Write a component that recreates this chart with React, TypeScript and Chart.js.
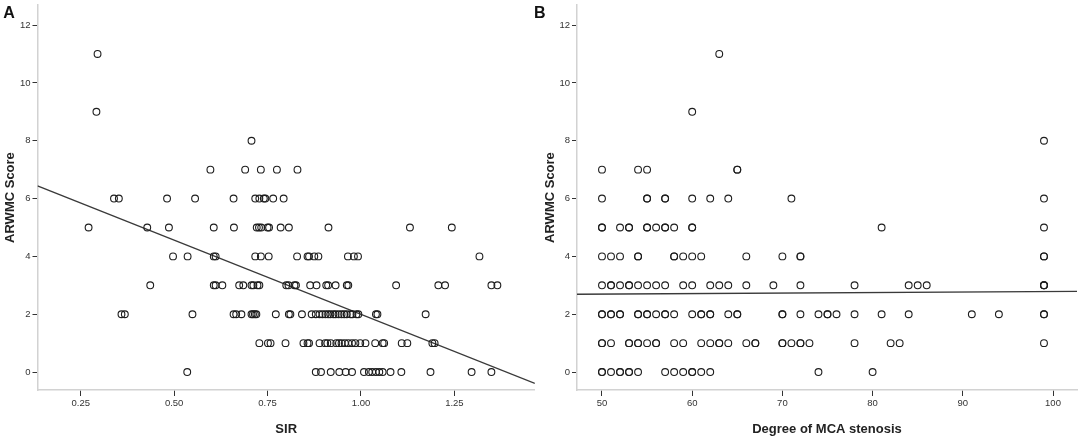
import React, { useEffect, useRef } from "react";
import { Chart, registerables } from "chart.js";

Chart.register(...registerables);

// ---------- data ----------
const scoreLevels = [0, 1, 2, 3, 4, 5, 6, 7, 8, 9, 11];
const yTicks = [0, 2, 4, 6, 8, 10, 12];
const sirTicks = [0.25, 0.5, 0.75, 1.0, 1.25];
const stenosisTicks = [50, 60, 70, 80, 90, 100];

// Panel A: SIR values for each ARWMC score
const sirScore0 = [0.535, 0.879, 0.893, 0.919, 0.942, 0.959, 0.976, 1.008, 1.021, 1.03, 1.04, 1.049, 1.058, 1.079, 1.108, 1.186, 1.296, 1.349];
const sirScore1 = [0.728, 0.751, 0.758, 0.798, 0.846, 0.857, 0.861, 0.889, 0.904, 0.91, 0.919, 0.934, 0.941, 0.948, 0.957, 0.966, 0.976, 0.985, 0.998, 1.012, 1.038, 1.058, 1.062, 1.109, 1.124, 1.191, 1.197];
const sirScore2 = [0.359, 0.368, 0.549, 0.659, 0.666, 0.68, 0.707, 0.711, 0.716, 0.72, 0.772, 0.807, 0.811, 0.842, 0.868, 0.879, 0.889, 0.897, 0.905, 0.912, 0.918, 0.926, 0.932, 0.94, 0.948, 0.955, 0.962, 0.972, 0.977, 0.988, 0.993, 1.04, 1.044, 1.173];
const sirScore3 = [0.436, 0.606, 0.611, 0.629, 0.674, 0.685, 0.707, 0.712, 0.723, 0.728, 0.8, 0.806, 0.822, 0.826, 0.864, 0.881, 0.907, 0.912, 0.932, 0.962, 0.966, 1.094, 1.207, 1.225, 1.349, 1.365];
const sirScore4 = [0.497, 0.536, 0.606, 0.611, 0.717, 0.732, 0.753, 0.829, 0.857, 0.861, 0.875, 0.886, 0.965, 0.981, 0.992, 1.317];
const sirScore5 = [0.271, 0.428, 0.486, 0.606, 0.66, 0.721, 0.727, 0.733, 0.75, 0.754, 0.785, 0.807, 0.913, 1.131, 1.243];
const sirScore6 = [0.339, 0.352, 0.481, 0.556, 0.659, 0.717, 0.728, 0.74, 0.744, 0.765, 0.793];
const sirScore7 = [0.597, 0.69, 0.732, 0.775, 0.83];
const sirScore8 = [0.707];
const sirScore9 = [0.292];
const sirScore11 = [0.295];

// Panel B: degree of MCA stenosis for each ARWMC score
const stenScore0 = [50, 50, 51, 52, 52, 53, 53, 54, 57, 58, 59, 60, 60, 61, 62, 74, 80];
const stenScore1 = [50, 50, 51, 53, 53, 54, 54, 55, 56, 56, 58, 59, 61, 62, 63, 63, 64, 66, 67, 67, 70, 70, 71, 72, 72, 73, 78, 82, 83, 99];
const stenScore2 = [50, 50, 51, 51, 52, 52, 54, 54, 55, 55, 56, 57, 57, 58, 60, 61, 61, 62, 62, 64, 65, 65, 70, 70, 72, 74, 75, 75, 76, 78, 81, 84, 91, 94, 99, 99];
const stenScore3 = [50, 51, 51, 52, 53, 53, 54, 55, 56, 57, 59, 60, 62, 63, 64, 66, 69, 72, 78, 84, 85, 86, 99, 99, 99];
const stenScore4 = [50, 51, 52, 54, 54, 58, 58, 59, 60, 61, 66, 70, 72, 72, 99, 99];
const stenScore5 = [50, 50, 52, 53, 53, 55, 55, 56, 57, 57, 58, 60, 60, 81, 99];
const stenScore6 = [50, 55, 55, 57, 57, 60, 62, 64, 71, 99];
const stenScore7 = [50, 54, 55, 65, 65];
const stenScore8 = [99];
const stenScore9 = [60];
const stenScore11 = [63];

// fitted lines (end points at the axis limits)
const sirFitX = [0.1343, 1.4654];
const sirFitY = [6.44, -0.39];
const stenFitX = [47.23, 102.66];
const stenFitY = [2.69, 2.79];

const sirByScore = [sirScore0, sirScore1, sirScore2, sirScore3, sirScore4, sirScore5, sirScore6, sirScore7, sirScore8, sirScore9, sirScore11];
const stenByScore = [stenScore0, stenScore1, stenScore2, stenScore3, stenScore4, stenScore5, stenScore6, stenScore7, stenScore8, stenScore9, stenScore11];

// ---------- helpers ----------
const FONT = '"Liberation Sans", Arial, Helvetica, sans-serif';

function toPoints(byScore: number[][]) {
  const pts: { x: number; y: number }[] = [];
  byScore.forEach((arr, i) => arr.forEach((x) => pts.push({ x, y: scoreLevels[i] })));
  return pts;
}

interface PanelOpts {
  points: { x: number; y: number }[];
  fitX: number[];
  fitY: number[];
  xMin: number;
  xMax: number;
  xTicks: number[];
  xTitle: string;
  xFmt: (v: number) => string;
  yAxisWidth: number;
  padRight: number;
}

function makeConfig(o: PanelOpts): any {
  return {
    type: "scatter",
    data: {
      datasets: [
        {
          data: o.points,
          pointRadius: 3.4,
          pointBorderWidth: 1.1,
          pointBorderColor: "#1e1e1e",
          pointBackgroundColor: "rgba(0,0,0,0)",
          showLine: false,
        },
        {
          data: o.fitX.map((x, i) => ({ x, y: o.fitY[i] })),
          showLine: true,
          borderColor: "#3a3a3a",
          borderWidth: 1.4,
          pointRadius: 0,
          fill: false,
        },
      ],
    },
    options: {
      animation: false,
      responsive: false,
      devicePixelRatio: 1,
      events: [],
      layout: { padding: { left: 0, top: 4, right: o.padRight, bottom: 0 } },
      plugins: { legend: { display: false }, tooltip: { enabled: false } },
      scales: {
        x: {
          type: "linear",
          min: o.xMin,
          max: o.xMax,
          afterBuildTicks: (s: any) => {
            s.ticks = o.xTicks.map((v) => ({ value: v }));
          },
          afterFit: (s: any) => {
            s.height = 48;
            s.paddingLeft = 0;
            s.paddingRight = 0;
          },
          ticks: {
            callback: (v: any) => o.xFmt(Number(v)),
            font: { family: FONT, size: 9.5 },
            color: "#333",
            padding: 2,
            maxRotation: 0,
            autoSkip: false,
          },
          grid: {
            display: true,
            drawOnChartArea: false,
            drawTicks: true,
            tickLength: 6,
            tickColor: "#333",
            tickWidth: 1,
          },
          border: { display: true, color: "#d2d2d2", width: 1.5 },
          title: {
            display: true,
            text: o.xTitle,
            font: { family: FONT, size: 13, weight: "bold" },
            color: "#222",
            padding: { top: 0, bottom: 1 },
          },
        },
        y: {
          type: "linear",
          min: -0.62,
          max: 12.69,
          afterBuildTicks: (s: any) => {
            s.ticks = yTicks.map((v) => ({ value: v }));
          },
          afterFit: (s: any) => {
            s.width = o.yAxisWidth;
            s.paddingTop = 0;
            s.paddingBottom = 0;
          },
          ticks: {
            callback: (v: any) => String(v),
            font: { family: FONT, size: 9.5 },
            color: "#333",
            padding: 2,
            autoSkip: false,
          },
          grid: {
            display: true,
            drawOnChartArea: false,
            drawTicks: true,
            tickLength: 5,
            tickColor: "#333",
            tickWidth: 1,
          },
          border: { display: true, color: "#d2d2d2", width: 1.5 },
          title: {
            display: true,
            text: "ARWMC Score",
            font: { family: FONT, size: 13, weight: "bold" },
            color: "#222",
            padding: { top: 3, bottom: 0 },
          },
        },
      },
    },
  };
}

function Panel(props: { left: number; width: number; opts: PanelOpts }) {
  const ref = useRef<HTMLCanvasElement | null>(null);
  useEffect(() => {
    if (!ref.current) return;
    const chart = new Chart(ref.current, makeConfig(props.opts));
    return () => chart.destroy();
  }, []);
  return (
    <canvas
      ref={ref}
      width={props.width}
      height={438}
      style={{ position: "absolute", left: props.left, top: 0, width: props.width, height: 438 }}
    />
  );
}

const letterStyle: React.CSSProperties = {
  position: "absolute",
  top: 5.2,
  fontFamily: FONT,
  fontWeight: "bold",
  fontSize: 16,
  lineHeight: "16px",
  color: "#111",
};

export default function App() {
  const optsA: PanelOpts = {
    points: toPoints(sirByScore),
    fitX: sirFitX,
    fitY: sirFitY,
    xMin: 0.1343,
    xMax: 1.4654,
    xTicks: sirTicks,
    xTitle: "SIR",
    xFmt: (v) => v.toFixed(2),
    yAxisWidth: 37.5,
    padRight: 2,
  };
  const optsB: PanelOpts = {
    points: toPoints(stenByScore),
    fitX: stenFitX,
    fitY: stenFitY,
    xMin: 47.23,
    xMax: 102.66,
    xTicks: stenosisTicks,
    xTitle: "Degree of MCA stenosis",
    xFmt: (v) => String(v),
    yAxisWidth: 37,
    padRight: 7,
  };
  return (
    <div style={{ position: "absolute", left: 0, top: 0, width: 1084, height: 438, background: "#fff", overflow: "hidden" }}>
      <Panel left={0} width={540} opts={optsA} />
      <Panel left={540} width={544} opts={optsB} />
      <div style={{ ...letterStyle, left: 3.3 }}>A</div>
      <div style={{ ...letterStyle, left: 534 }}>B</div>
    </div>
  );
}
